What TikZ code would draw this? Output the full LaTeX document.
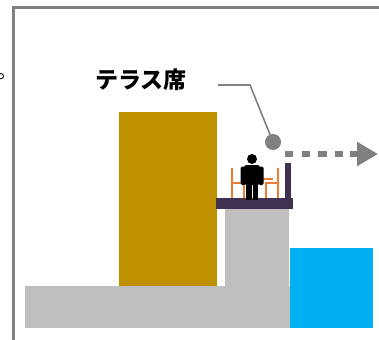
\documentclass[tikz,border=0pt]{standalone}
\usepackage{fontspec}
\newfontfamily\jpfont{Noto Sans CJK JP}
\usetikzlibrary{arrows.meta}
\definecolor{frame}{HTML}{808080}
\definecolor{gold}{HTML}{BF9000}
\definecolor{ground}{HTML}{BFBFBF}
\definecolor{water}{HTML}{00B0F0}
\definecolor{deck}{HTML}{403151}
\definecolor{chair}{HTML}{ED7D31}
\tikzset{
  block/.style={fill=#1, draw=none},
  framing/.style={draw=frame, line width=3.5pt},
  callout/.style={draw=frame, line width=1.6pt},
  chairline/.style={draw=chair, line width=2.6pt},
  label/.style={font=\jpfont\bfseries\fontsize{23}{23}\selectfont, inner sep=0pt},
}
\begin{document}
\begin{tikzpicture}[x=1pt,y=-1pt]
\useasboundingbox (0,0) rectangle (379,339);
% outer frame
\draw[framing] (13.5,345) -- (13.5,7.5) -- (385,7.5);
\node[font=\jpfont\fontsize{20}{20}\selectfont, inner sep=0pt, anchor=base west] (mark) at (-3,79) {。};
% ground, building, raised deck, water
\fill[block=ground] (25,286) rectangle (290,328);
\fill[block=gold] (119,112) rectangle (217,286);
\fill[block=ground] (225,208) rectangle (289,286);
\fill[block=water] (290,248) rectangle (373,328);
\fill[block=deck] (216,198) rectangle (293,209);
\fill[block=deck] (285,163) rectangle (291,198);
% chairs and table
\draw[chairline] (232,168) -- (232,198);
\draw[chairline] (232,183) -- (244,183) -- (244,198);
\draw[chairline] (278,168) -- (278,198);
\draw[chairline] (278,183) -- (266,183) -- (266,198);
\draw[chairline] (255,179) -- (273,179);
% person
\fill[black] (252,159) circle (5);
\fill[black, rounded corners=2.5pt] (244,165) rectangle (260,185);
\fill[black, rounded corners=1.5pt] (240.5,166.5) rectangle (245.5,185);
\fill[black, rounded corners=1.5pt] (258.5,166.5) rectangle (263.5,185);
\fill[black] (246,183) rectangle (251.5,200);
\fill[black] (252.5,183) rectangle (258,200);
% label and callout
\node[label] (terrace) at (141,80) {テラス席};
\coordinate (bend) at (250,85);
\node[circle, fill=frame, minimum size=16pt, inner sep=0pt] (seat) at (273,142) {};
\draw[callout] (218,85) -- (bend) -- (seat.center);
% view direction
\coordinate (dstart) at (285,154);
\coordinate (dend) at (343.5,154);
\draw[frame, line width=6.5pt, dash pattern=on 8.3pt off 8.4pt] (dstart) -- (dend);
\draw[frame, line width=6.5pt, -{Triangle[length=21pt,width=23pt]}] (350,154) -- (378,154);
\end{tikzpicture}
\end{document}
